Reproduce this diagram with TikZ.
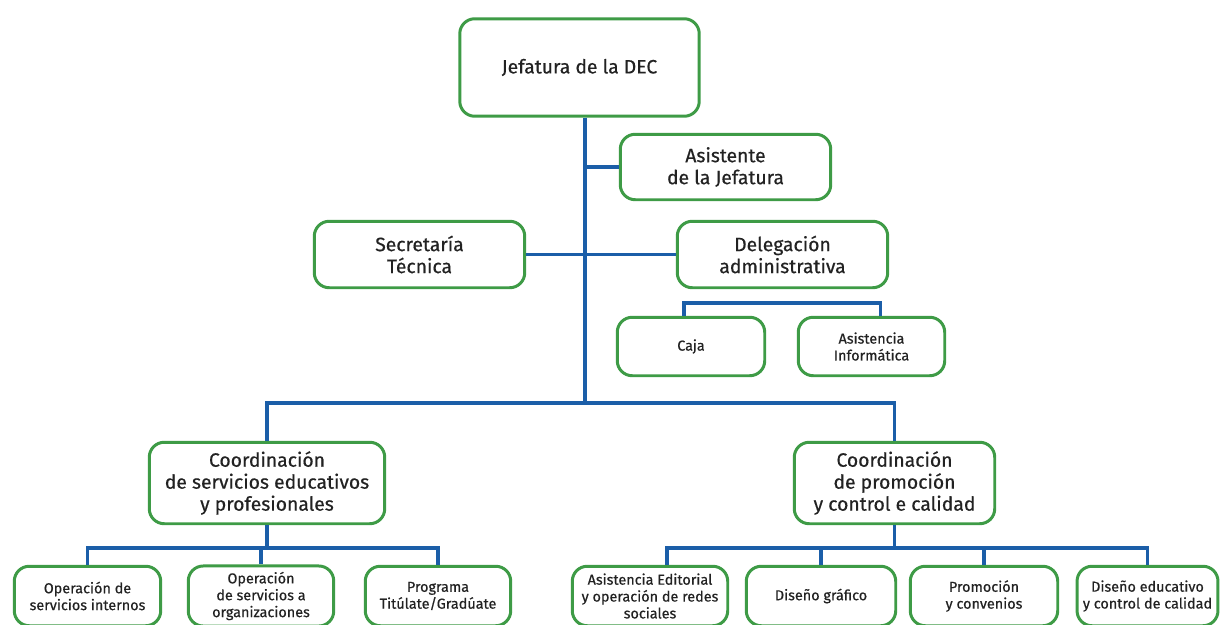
\documentclass[tikz,border=0pt]{standalone}
\usepackage{fontspec}
\setmainfont{Fira Sans}[FakeBold=0.5]
\definecolor{boxgreen}{HTML}{3E9B46}
\definecolor{linkblue}{HTML}{1B5EA8}
\definecolor{txtgray}{HTML}{222222}

\begin{document}
\begin{tikzpicture}[x=0.02cm, y=-0.02cm, every node/.style={text=txtgray, align=center},
	unit/.style={draw=boxgreen, line width=1.7pt, rounded corners=0.3cm, fill=white, font=\fontsize{11}{12.5}\selectfont},
	subunit/.style={unit, font=\fontsize{8.2}{9.6}\selectfont, minimum height=1.19cm},
	link/.style={draw=linkblue, line width=2pt}]
	\path[use as bounding box, clip] (0,0) rectangle (1220,625);
	% upper levels
	\node[unit, minimum width=4.79cm, minimum height=1.95cm] (jef) at (579.5,67.5) {Jefatura de la DEC};
	\node[unit, minimum width=4.21cm, minimum height=1.31cm] (asis) at (725.5,167) {Asistente\\de la Jefatura};
	\node[unit, minimum width=4.21cm, minimum height=1.33cm] (secr) at (419.5,254.5) {Secretaría\\Técnica};
	\node[unit, minimum width=4.21cm, minimum height=1.33cm] (dele) at (782.5,254.5) {Delegación\\administrativa};
	\node[subunit, minimum width=2.95cm, minimum height=1.17cm] (caja) at (691,346.5) {Caja};
	\node[subunit, minimum width=2.93cm, minimum height=1.17cm] (info) at (871.5,346.5) {Asistencia\\Informática};
	\node[unit, minimum width=4.71cm, minimum height=1.63cm] (coorda) at (267,483) {Coordinación\\de servicios educativos\\y profesionales};
	\node[unit, minimum width=4.01cm, minimum height=1.63cm] (coordb) at (894.5,483) {Coordinación\\de promoción\\y control e calidad};
	% lower level
	\node[subunit, minimum width=2.93cm] (opint) at (87.5,596) {Operación de\\servicios internos};
	\node[subunit, minimum width=2.91cm] (opserv) at (261,596) {Operación\\de servicios a\\organizaciones};
	\node[subunit, minimum width=2.91cm] (prog) at (438,596) {Programa\\Titúlate/Gradúate};
	\node[subunit, minimum width=3.11cm] (ased) at (650,596) {Asistencia Editorial\\y operación de redes\\sociales};
	\node[subunit, minimum width=2.99cm] (disg) at (821,596) {Diseño gráfico};
	\node[subunit, minimum width=2.95cm] (prom) at (984,596) {Promoción\\y convenios};
	\node[subunit, minimum width=2.81cm] (dised) at (1147.5,596) {Diseño educativo\\y control de calidad};
	% connectors
	\coordinate (hub) at (585,403);
	\draw[link] (jef.south -| hub) -- (hub);
	\draw[link] (asis.west) -- (asis.west -| hub);
	\draw[link] (secr.east) -- (dele.west);
	\draw[link] ([xshift=-7*0.02cm]caja.north) -- ++(0,-13) -| ([xshift=9*0.02cm]info.north);
	\draw[link] (coorda.north) |- (hub) -| (coordb.north);
	\path (coorda.south) ++(0,23) coordinate (bara);
	\path (coordb.south) ++(0,23) coordinate (barb);
	\draw[link] (coorda.south) -- (bara);
	\draw[link] (coordb.south) -- (barb);
	\foreach \n in {opint,opserv,prog} {\draw[link] (bara) -| (\n.north);}
	\foreach \n in {disg,prom,dised} {\draw[link] (barb) -| (\n.north);}
	\draw[link] (barb) -| ([xshift=17*0.02cm]ased.north);
\end{tikzpicture}
\end{document}
